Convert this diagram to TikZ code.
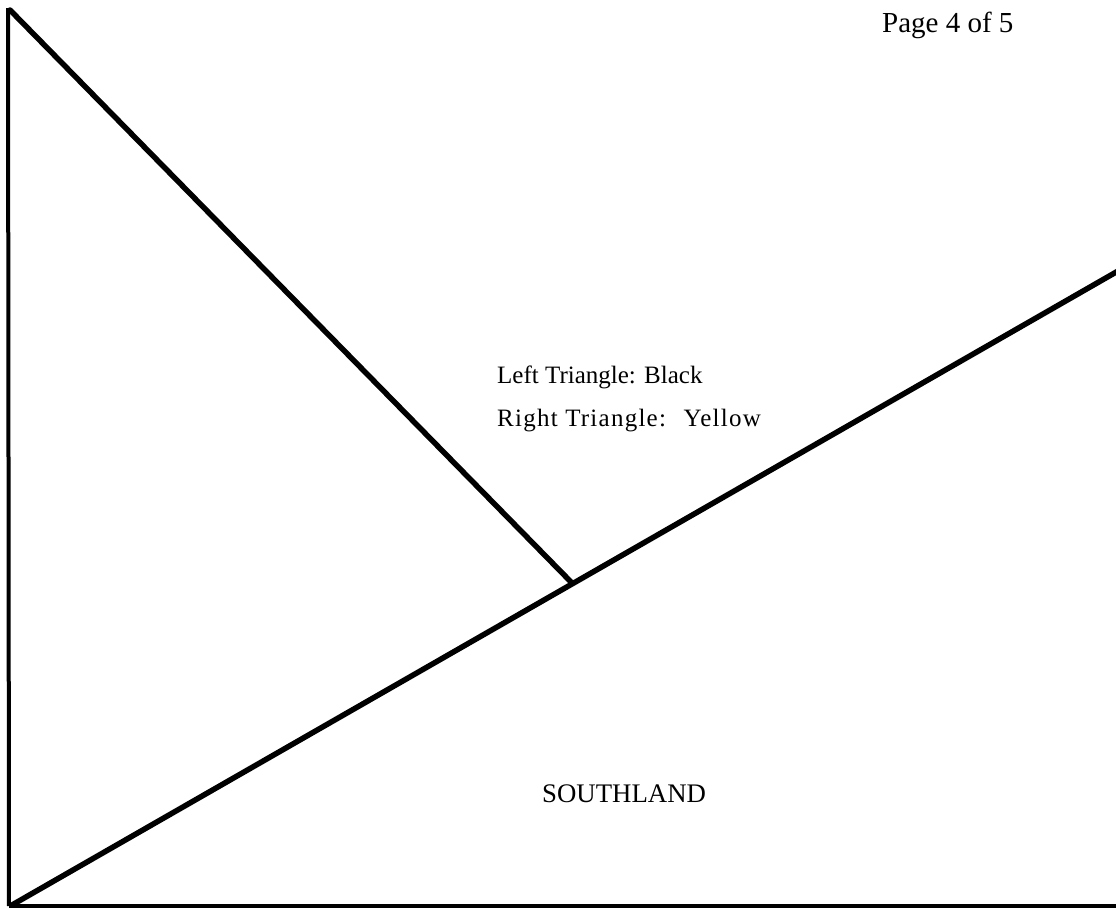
\documentclass[tikz,border=0pt]{standalone}
\usepackage{fontspec}
\setmainfont{Liberation Serif}
\begin{document}
\begin{tikzpicture}[x=1pt, y=-1pt,
    edge/.style={line width=5.5pt, line cap=round, line join=round},
    label/.style={inner sep=0pt, anchor=base west}]
    \useasboundingbox (0,0) rectangle (1116,908);
    % Ecken
    \coordinate (tl) at (8,8);
    \coordinate (bl) at (9,906);
    \coordinate (br) at (1118,906);
    \coordinate (rt) at (1118,271);
    \coordinate (mid) at (572,583);

    % Rahmen und Linien
    \draw[line width=4pt] (tl) -- (bl);
    \draw[line width=3.5pt] (bl) -- (br);
    \draw[edge] (bl) ++(3,-1) -- (rt);
    \draw[edge] (tl) ++(2,2) -- (mid);

    % Texte
    \node[label, font=\fontsize{29}{32}\selectfont] (page) at (882,32) {Page 4 of 5};
    \node[label, font=\fontsize{25}{28}\selectfont] (left) at (497,383) {Left Triangle: Black};
    \node[label, font=\fontsize{25}{28}\selectfont\addfontfeature{LetterSpace=5}] (right) at (497,426) {Right Triangle: \ Yellow};
    \node[label, font=\fontsize{26.8}{30}\selectfont] (south) at (542,802) {SOUTHLAND};
\end{tikzpicture}
\end{document}
